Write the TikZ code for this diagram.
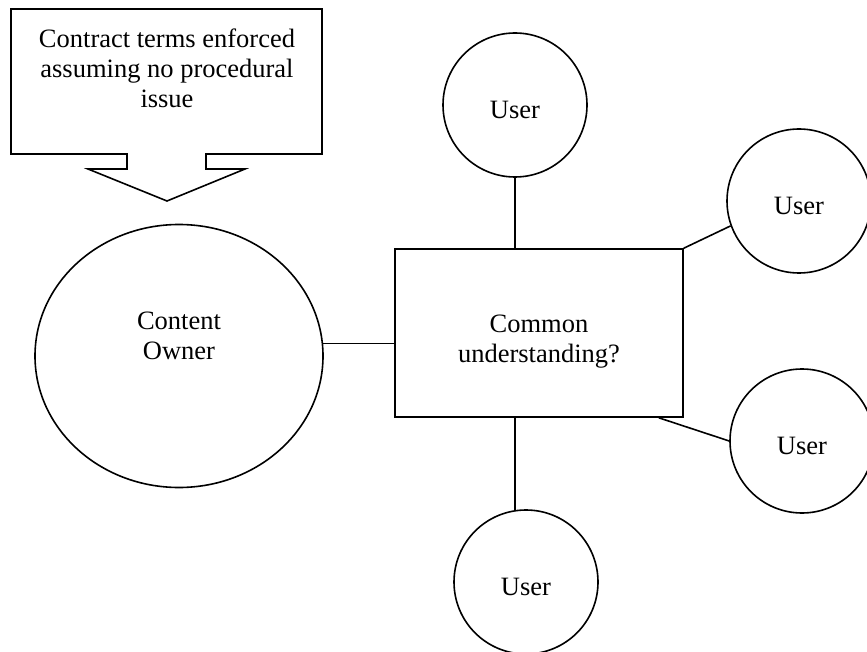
\documentclass[tikz,border=0pt]{standalone}
\usepackage{fontspec}
\setmainfont{Liberation Serif}
\usetikzlibrary{shapes.geometric}
\tikzset{
	party/.style={draw, line width=1.6pt, circle, minimum size=144pt, inner sep=0pt, text height=28pt},
	owner/.style={draw, line width=1.6pt, ellipse, minimum width=288pt, minimum height=263pt, inner sep=0pt},
	hub/.style={draw, line width=1.6pt, rectangle, minimum width=288pt, minimum height=168pt, inner sep=0pt, text height=64pt},
	txt/.style={align=center, inner sep=0pt, font=\fontsize{26.5}{30}\selectfont}
}

\begin{document}
\begin{tikzpicture}[x=1pt,y=-1pt,line width=1.6pt,line join=miter]
	\useasboundingbox (0,0) rectangle (867,652);

	% callout above the owner
	\draw (11,9) -- (322,9) -- (322,154) -- (206,154) -- (206,169) -- (245,169)
		-- (167,201) -- (88,169) -- (127,169) -- (127,154) -- (11,154) -- cycle;
	\node[txt] (terms) at (167,68) {Contract terms enforced\\assuming no procedural\\issue};

	% owner and common ground
	\node[owner] (owner) at (179,356) {};
	\node[txt] (ownerlbl) at (179,336) {Content\\Owner};
	\node[hub,txt] (common) at (539,333) {Common\\understanding?};

	% users
	\node[party,txt] (usertop) at (515,105) {User};
	\node[party,txt] (userrt) at (799,201) {User};
	\node[party,txt] (userrb) at (802,441) {User};
	\node[party,txt] (userbot) at (526,582) {User};

	% links
	\draw (owner.5) -- (owner.5 -| common.west);
	\draw (usertop.south) -- (usertop.south |- common.north);
	\draw (common.north east) -- (userrt.200);
	\draw ([xshift=-25pt]common.south east) -- (userrb.west);
	\draw (usertop.south |- common.south) -- (usertop.south |- userbot.99);
\end{tikzpicture}
\end{document}
